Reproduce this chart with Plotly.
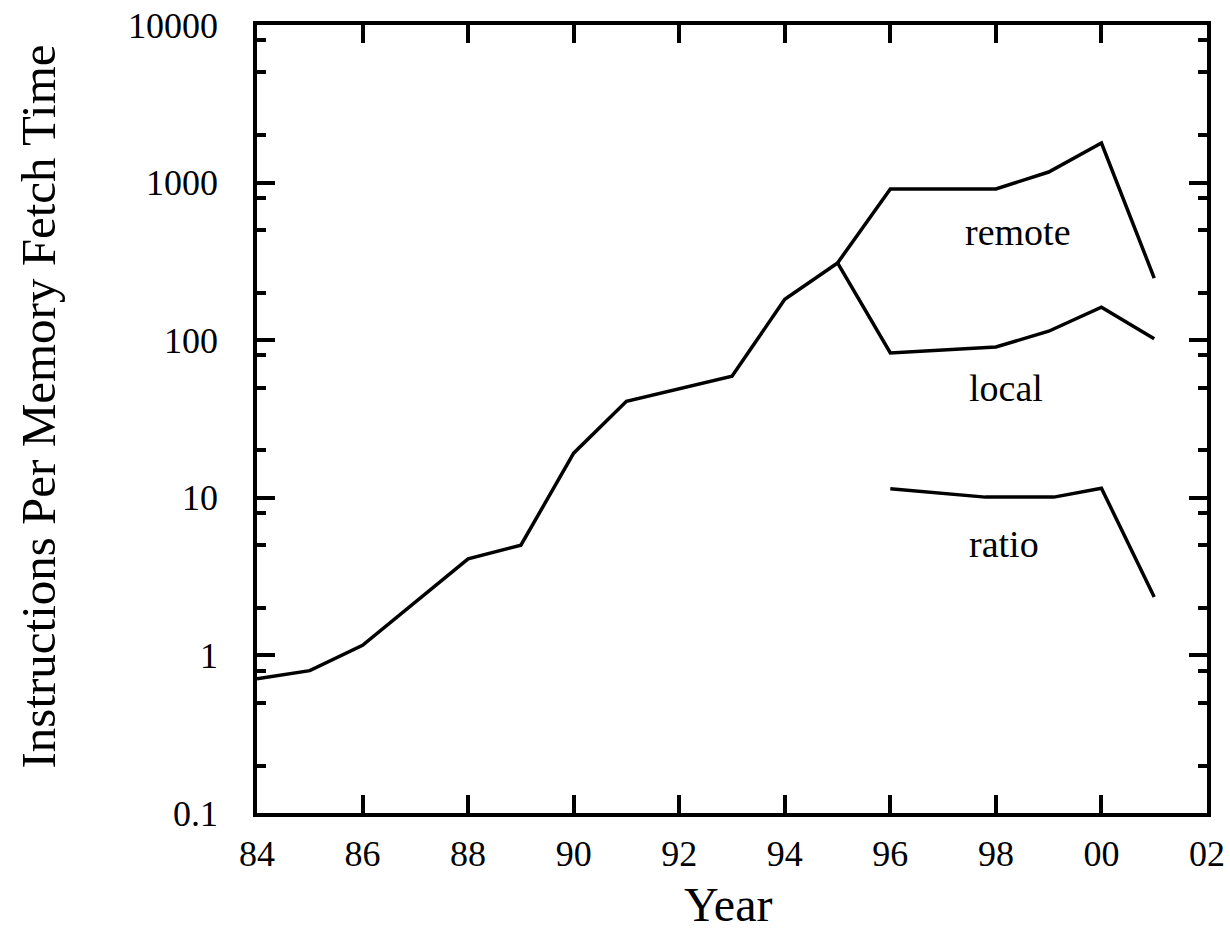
import plotly.graph_objects as go
import math

# ---- data ----
main_years = [1984, 1985, 1986, 1988, 1989, 1990, 1991, 1993, 1994, 1995]
main_vals = [0.71, 0.80, 1.16, 4.1, 5.0, 19.2, 41, 59, 182, 309]

remote_years = [1995, 1996, 1998, 1999, 2000, 2001]
remote_vals = [309, 911, 911, 1167, 1783, 248]

local_years = [1995, 1996, 1998, 1999, 2000, 2001]
local_vals = [309, 83, 90.6, 114, 162, 102]

ratio_years = [1996, 1997.8, 1999.1, 2000, 2001]
ratio_vals = [11.4, 10.1, 10.1, 11.5, 2.35]

x_tickvals = [1984, 1986, 1988, 1990, 1992, 1994, 1996, 1998, 2000, 2002]
x_ticktext = ["84", "86", "88", "90", "92", "94", "96", "98", "00", "02"]
y_tickvals = [0.1, 1, 10, 100, 1000, 10000]
y_ticktext = ["0.1", "1", "10", "100", "1000", "10000"]
y_minor = [m * 10 ** e for e in range(-1, 4) for m in (2, 5, 8)]

series_labels = ["remote", "local", "ratio"]
label_x = [1998.42, 1998.2, 1998.15]
label_y = [485, 49.8, 5.1]

FONT = "Liberation Serif, Times New Roman, serif"
line_style = dict(color="black", width=3.5)

fig = go.Figure()
for xs, ys in [(main_years, main_vals), (remote_years, remote_vals),
               (local_years, local_vals), (ratio_years, ratio_vals)]:
    fig.add_trace(go.Scatter(x=xs, y=ys, mode="lines", line=line_style,
                             showlegend=False, hoverinfo="skip"))

for t, lx, ly in zip(series_labels, label_x, label_y):
    fig.add_annotation(x=lx, y=math.log10(ly), xref="x", yref="y", text=t,
                       showarrow=False, font=dict(family=FONT, size=38, color="black"))

# axis titles as annotations for precise placement
fig.add_annotation(x=(728 - 257) / 950, y=(813 - 933) / 788, xref="paper", yref="paper",
                   text="Year", showarrow=False, xanchor="center", yanchor="bottom",
                   font=dict(family=FONT, size=48, color="black"))
fig.add_annotation(x=(38 - 257) / 950, y=(813 - 406.5) / 788, xref="paper", yref="paper",
                   text="Instructions Per Memory Fetch Time", textangle=-90,
                   showarrow=False, xanchor="center", yanchor="middle",
                   font=dict(family=FONT, size=49, color="black"))

fig.update_xaxes(
    range=[1984, 2002], tickmode="array", tickvals=x_tickvals, ticktext=x_ticktext,
    ticks="inside", ticklen=18, tickwidth=3.5, tickcolor="black",
    showline=True, linewidth=3.5, linecolor="black", mirror="ticks",
    showgrid=False, zeroline=False, ticklabelstandoff=6, ticklabeloverflow="allow",
    automargin=False,
    tickfont=dict(family=FONT, size=36, color="black"),
)
fig.update_yaxes(
    type="log", range=[-1, 4], tickmode="array", tickvals=y_tickvals, ticktext=y_ticktext,
    ticks="inside", ticklen=18, tickwidth=3.5, tickcolor="black",
    showline=True, linewidth=3.5, linecolor="black", mirror="ticks",
    showgrid=False, zeroline=False, ticklabelstandoff=28, ticklabeloverflow="allow",
    automargin=False,
    minor=dict(tickmode="array", tickvals=y_minor, ticks="inside", ticklen=9,
               tickwidth=3.5, tickcolor="black", showgrid=False),
    tickfont=dict(family=FONT, size=36, color="black"),
)
fig.update_layout(
    width=1230, height=934,
    margin=dict(l=257, r=23, t=25, b=121, autoexpand=False),
    plot_bgcolor="white", paper_bgcolor="white",
    showlegend=False,
)
fig.write_html("out.html", config={"displayModeBar": False},
               post_script="document.body.style.margin='0';")
